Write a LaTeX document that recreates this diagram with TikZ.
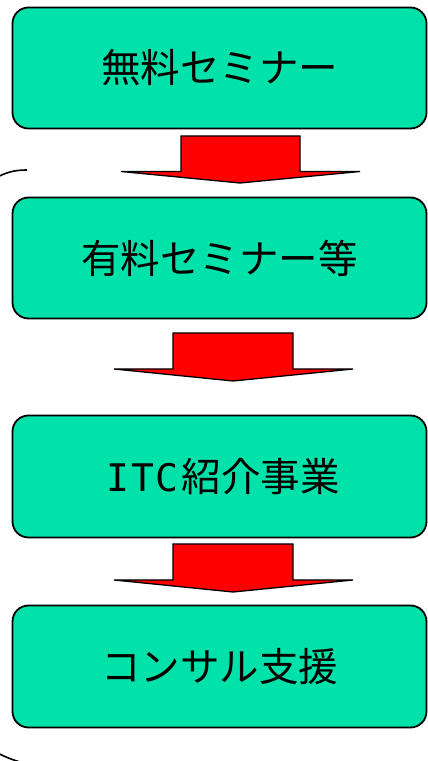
\documentclass[tikz,border=0pt]{standalone}
\usepackage{fontspec}
\newfontfamily\jp{Noto Sans CJK JP}
\newfontfamily\mono{DejaVu Sans Mono}
\definecolor{boxfill}{HTML}{00E2AA}
\definecolor{arrred}{HTML}{FF0000}
\begin{document}
\begin{tikzpicture}[x=1pt,y=1pt,
  stepbox/.style={draw=black, line width=1.8pt, fill=boxfill, rounded corners=16pt,
    minimum width=414pt, minimum height=121pt, inner sep=0pt,
    font=\jp\fontsize{39.5}{42}\selectfont},
  bigarrow/.style={draw=black, line width=1.3pt, fill=arrred, line join=miter},
  brace/.style={draw=black, line width=1.6pt}]
\useasboundingbox (0,0) rectangle (428,761);
\clip (0,0) rectangle (428,761);
\node[stepbox] (b1) at (219.5,693) {無料セミナー};
\node[stepbox] (b2) at (219.5,503) {有料セミナー等};
\node[stepbox, minimum height=122pt] (b3) at (219.5,284.5) {\hspace{7pt}{\mono\fontsize{38}{40}\selectfont I\hspace{2pt}T\hspace{2pt}C\hspace{3pt}}紹介事業};
\node[stepbox, minimum height=122pt] (b4) at (219.5,94.5) {コンサル支援};
% arrows
\draw[bigarrow] (181,625) -- (300,625) -- (300,589.5) -- (360,589.5) -- (240,578) -- (121,589.5) -- (181,589.5) -- cycle;
\draw[bigarrow] (173,428) -- (293,428) -- (293,392) -- (353,392) -- (233,380) -- (114,392) -- (173,392) -- cycle;
\draw[bigarrow] (173,217) -- (293,217) -- (293,181) -- (353,181) -- (233,169) -- (114,181) -- (173,181) -- cycle;
% left bracket
\draw[brace] (27,591) .. controls (15,591) and (6,589) .. (-6,582);
\draw[brace] (-6,10) .. controls (3,5) and (10,2) .. (20,-1);
\end{tikzpicture}
\end{document}
